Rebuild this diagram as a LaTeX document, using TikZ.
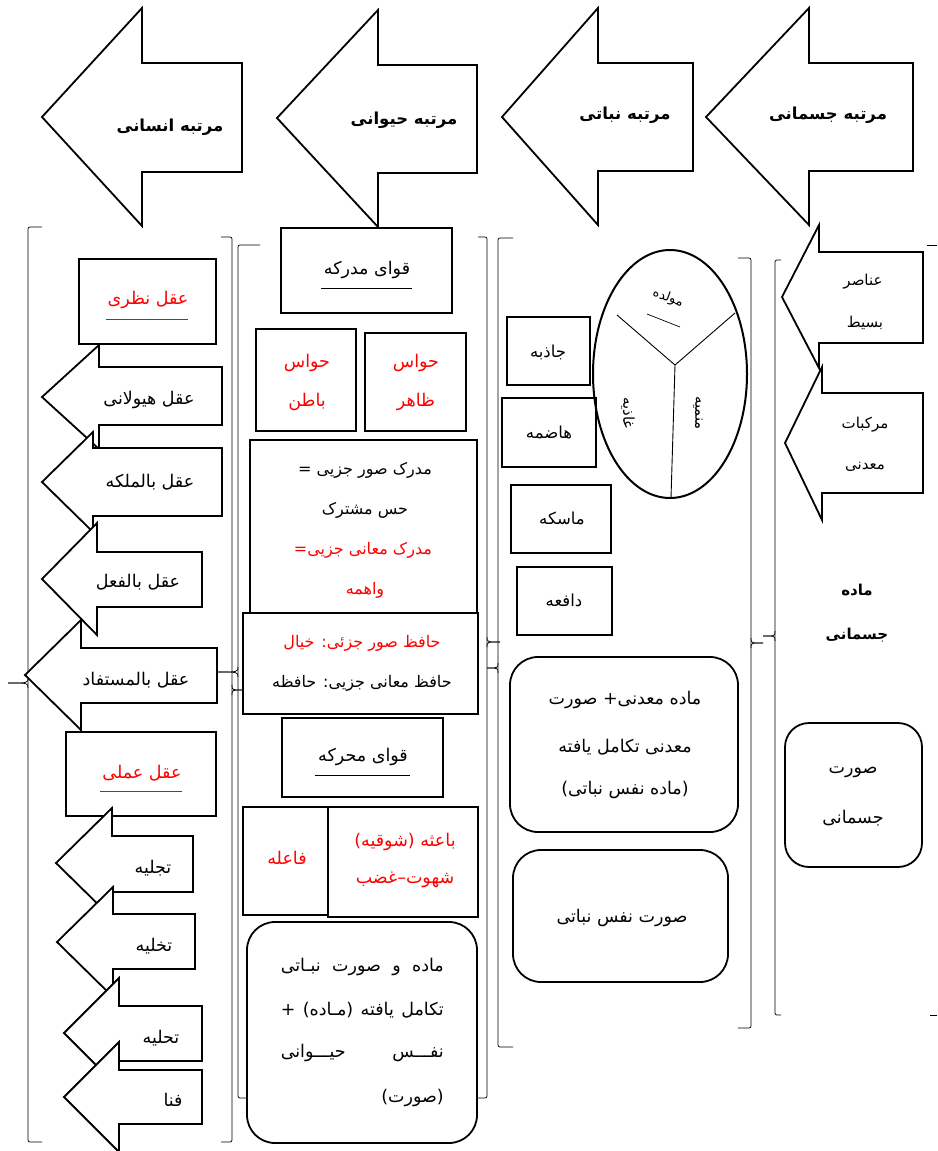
\documentclass[tikz,border=0pt]{standalone}
\usepackage{fontspec}
\TeXXeTstate=1
\newfontfamily\arfont[Script=Arabic]{DejaVu Sans}
\usetikzlibrary{shapes.geometric}
\newcommand{\rtl}[1]{\beginR #1\endR}
\newcommand{\blockarrow}[8]{%
  \draw[arr] (#1,#2) -- (#3,#4) -- (#3,#6) -- (#8,#6) -- (#8,#7) -- (#3,#7) -- (#3,#5) -- cycle;}
\newcommand{\colbracket}[6]{% x, top, bottom, hook x, tip y, tip x
  \draw[brk, rounded corners=2pt] (#4,#2) -- (#1,#2) -- (#1,#3) -- (#4,#3);
  \draw[brk] (#1,#5-5) .. controls (#1,#5) .. (#6,#5);
  \draw[brk] (#1,#5+5) .. controls (#1,#5) .. (#6,#5);}
\newcommand{\boxnode}[6][]{%
  \node[box,#1,anchor=north west,minimum width={#5-#3},minimum height={#6-#4}] (#2) at (#3,#4) {};}
\tikzset{
  box/.style={draw, line width=2pt, fill=white, inner sep=0pt, outer sep=0pt},
  rbox/.style={rounded corners=28pt, line width=1.8pt},
  arr/.style={draw, line width=1.8pt, fill=white, line join=miter},
  brk/.style={draw, line width=0.7pt},
  txt/.style={font=\arfont\fontsize{17.5}{20}\selectfont, inner sep=1pt},
  rtxt/.style={txt, text=red},
  mid/.style={font=\arfont\fontsize{16}{19}\selectfont, inner sep=1pt},
  lbl/.style={font=\arfont\fontsize{16.5}{19}\selectfont, inner sep=1pt},
  sml/.style={font=\arfont\fontsize{15}{18}\selectfont, inner sep=1pt},
  tiny/.style={font=\arfont\fontsize{13}{15}\selectfont, inner sep=0pt},
  ttl/.style={font=\arfont\bfseries\fontsize{16.5}{19}\selectfont, inner sep=1pt},
  ttlb/.style={font=\arfont\bfseries\fontsize{15}{18}\selectfont, inner sep=1pt},
  uline/.style={draw, line width=0.7pt}
}
\begin{document}
\begin{tikzpicture}[x=1pt,y=-1pt]
\useasboundingbox (0,0) rectangle (937,1151);
\fill[white] (0,0) rectangle (937,1151);

% ---------- top arrows ----------
\blockarrow{42}{117}{142}{8}{226}{63}{172}{242}
\node[ttl] (t1) at (170,127) {\rtl{مرتبه انسانی}};
\blockarrow{277}{118}{378}{10}{227}{65}{173}{477}
\node[ttl] (t2) at (404,120) {\rtl{مرتبه حیوانی}};
\blockarrow{502}{117}{598}{8}{225}{63}{171}{693}
\node[ttl] (t3) at (625,115) {\rtl{مرتبه نباتی}};
\blockarrow{706}{117}{809}{8}{225}{63}{171}{913}
\node[ttl] (t4) at (828,115) {\rtl{مرتبه جسمانی}};

% ---------- brackets ----------
\colbracket{28}{227}{1142}{42}{683}{8}
\colbracket{232}{237}{1142}{221}{690}{243}
\colbracket{238}{245}{1098}{260}{672}{217}
\colbracket{487}{237}{1098}{478}{642}{500}
\colbracket{498}{238}{1047}{513}{668}{487}
\colbracket{751}{258}{1028}{738}{643}{763}
\colbracket{775}{260}{1015}{781}{636}{763}
\draw[brk] (927,245) -- (937,245);
\draw[brk] (930,1015) -- (937,1015);

% ---------- column 1 ----------
\boxnode{nazari}{79}{259}{216}{344}
\node[rtxt] (nazaritxt) at (148,300) {\rtl{عقل نظری}};
\draw[uline, red] (106,319) -- (188,319);
\blockarrow{42}{397}{99}{345}{449}{367}{425}{222}
\node[txt] (hayulani) at (149,400) {\rtl{عقل هیولانی}};
\blockarrow{42}{482}{93}{432}{532}{448}{516}{222}
\node[txt] (malake) at (150,482) {\rtl{عقل بالملکه}};
\blockarrow{42}{579}{97}{523}{635}{552}{607}{202}
\node[txt] (fel) at (138,582) {\rtl{عقل بالفعل}};
\blockarrow{25}{675}{81}{620}{730}{648}{703}{217}
\node[txt] (mostafad) at (136,680) {\rtl{عقل بالمستفاد}};
\boxnode{amali}{66}{732}{216}{816}
\node[rtxt] (amalitxt) at (142,773) {\rtl{عقل عملی}};
\draw[uline, red] (100,791) -- (182,791);
\blockarrow{56}{863}{112}{808}{918}{836}{892}{193}
\node[txt] (tajliye) at (153,868) {\rtl{تجلیه}};
\blockarrow{57}{942}{113}{887}{997}{914}{969}{195}
\node[txt] (takhliye) at (154,946) {\rtl{تخلیه}};
\blockarrow{64}{1033}{119}{978}{1088}{1006}{1061}{202}
\node[txt] (tahliye) at (161,1038) {\rtl{تحلیه}};
\blockarrow{64}{1097}{119}{1042}{1152}{1070}{1124}{202}
\node[txt] (fana) at (173,1100) {\rtl{فنا}};

% ---------- column 2 ----------
\boxnode{modrike}{281}{228}{452}{313}
\node[txt] (modriketxt) at (367,270) {\rtl{قوای مدرکه}};
\draw[uline] (321,288) -- (412,288);
\boxnode{baten}{256}{329}{356}{431}
\node[rtxt] (baten1) at (307,363) {\rtl{حواس}};
\node[rtxt] (baten2) at (307,402) {\rtl{باطن}};
\boxnode{zaher}{365}{333}{466}{431}
\node[rtxt] (zaher1) at (416,363) {\rtl{حواس}};
\node[rtxt] (zaher2) at (416,402) {\rtl{ظاهر}};
\boxnode{moshtarak}{250}{440}{477}{613}
\node[mid] (m1) at (365,470) {\rtl{مدرک صور جزیی =}};
\node[mid] (m2) at (365,510) {\rtl{حس مشترک}};
\node[mid, text=red] (m3) at (363,550) {\rtl{مدرک معانی جزیی=}};
\node[mid, text=red] (m4) at (365,590) {\rtl{واهمه}};
\boxnode{hafez}{243}{613}{478}{714}
\node[mid, text=red] (h1) at (362,643) {\rtl{حافظ صور جزئی: خیال}};
\node[mid] (h2) at (362,683) {\rtl{حافظ معانی جزیی: حافظه}};
\boxnode{moharrike}{282}{718}{443}{797}
\node[txt] (moharriketxt) at (363,757) {\rtl{قوای محرکه}};
\draw[uline] (315,775) -- (410,775);
\boxnode{faele}{243}{807}{328}{915}
\node[rtxt] (faeletxt) at (287,858) {\rtl{فاعله}};
\boxnode{baese}{328}{807}{478}{917}
\node[rtxt] (b1) at (405,842) {\rtl{باعثه (شوقیه)}};
\node[rtxt] (b2) at (405,880) {\rtl{شهوت–غضب}};
\boxnode[rbox]{heyvani}{247}{922}{477}{1143}
\node[txt, anchor=east] (r1) at (445,967) {\hbox to 163pt{\beginR ماده\hfill و\hfill صورت\hfill نبـاتی\endR}};
\node[txt, anchor=east] (r2) at (445,1010) {\hbox to 163pt{\beginR تکامل\hfill یافته\hfill (مـاده)\hfill +\endR}};
\node[txt, anchor=east] (r3) at (445,1053) {\hbox to 163pt{\beginR نفـــس\hfill حیـــوانی\endR}};
\node[txt, anchor=east] (r4) at (445,1098) {\rtl{(صورت)}};

% ---------- column 3 ----------
\boxnode{jazebe}{507}{317}{590}{385}
\node[lbl] (jazebetxt) at (548,352) {\rtl{جاذبه}};
\boxnode{hazeme}{502}{398}{596}{467}
\node[lbl] (hazemetxt) at (549,432) {\rtl{هاضمه}};
\boxnode{maseke}{511}{485}{611}{553}
\node[lbl] (masekettxt) at (562,518) {\rtl{ماسکه}};
\boxnode{dafee}{517}{567}{612}{635}
\node[lbl] (dafeetxt) at (564,600) {\rtl{دافعه}};
\node[draw, ellipse, line width=2pt, minimum width=154, minimum height=248, inner sep=0pt] (ell) at (670,374) {};
\coordinate (ec) at (675,365);
\draw[line width=0.9pt] (ec) -- (617,315);
\draw[line width=0.9pt] (ec) -- (735,313);
\draw[line width=0.9pt] (ec) -- (671,498);
\node[tiny, rotate=-20] (movallede) at (668,298) {\rtl{مولده}};
\draw[uline] (647,314) -- (680,327);
\node[sml, rotate=-90] (ghazie) at (628,413) {\rtl{غاذیه}};
\node[sml, rotate=-90] (monamie) at (698,413) {\rtl{منمیه}};
\boxnode[rbox]{nabati1}{510}{657}{738}{832}
\node[txt] (n1) at (625,700) {\rtl{ماده معدنی+ صورت}};
\node[txt] (n2) at (625,747) {\rtl{معدنی تکامل یافته}};
\node[txt] (n3) at (625,790) {\rtl{(ماده نفس نباتی)}};
\boxnode[rbox]{nabati2}{513}{850}{728}{982}
\node[txt] (n4) at (622,918) {\rtl{صورت نفس نباتی}};

% ---------- column 4 ----------
\blockarrow{782}{297}{819}{225}{368}{252}{343}{923}
\node[sml] (anasor) at (863,282) {\rtl{عناصر}};
\node[sml] (basit) at (865,323) {\rtl{بسیط}};
\blockarrow{785}{443}{822}{367}{520}{393}{493}{923}
\node[sml] (morakkabat) at (865,425) {\rtl{مرکبات}};
\node[sml] (maadani) at (865,467) {\rtl{معدنی}};
\node[ttlb] (made) at (857,590) {\rtl{ماده}};
\node[ttlb] (jesmani) at (857,635) {\rtl{جسمانی}};
\boxnode[rbox, rounded corners=24pt]{suratj}{785}{723}{922}{867}
\node[txt] (s1) at (853,772) {\rtl{صورت}};
\node[txt] (s2) at (853,818) {\rtl{جسمانی}};
\end{tikzpicture}
\end{document}
